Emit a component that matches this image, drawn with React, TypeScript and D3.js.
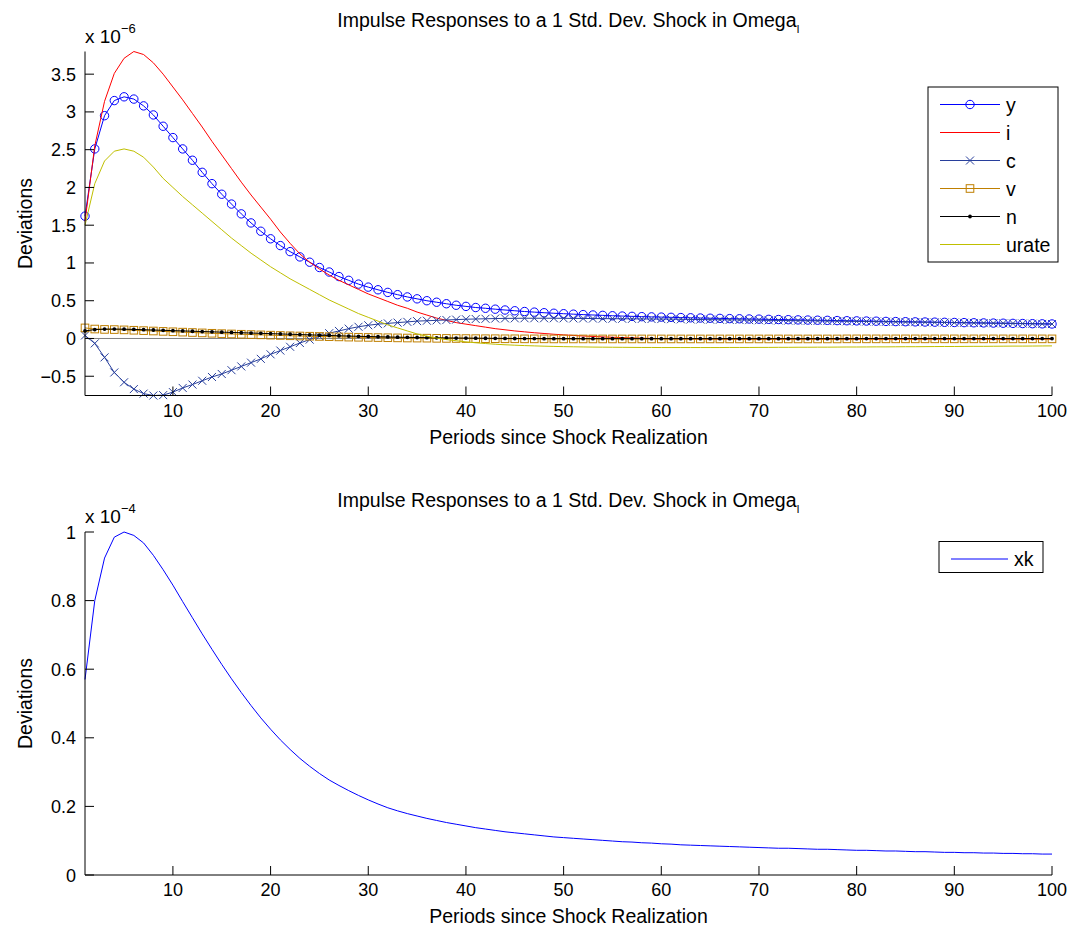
import React from 'react';
import * as d3 from 'd3';

// periods 1..100
const periods = d3.range(1, 101);

// responses, in units of 1e-6
const ySeries = [
  1.62, 2.51, 2.95, 3.15, 3.20, 3.17, 3.08, 2.96, 2.81, 2.66,
  2.51, 2.36, 2.20, 2.05, 1.91, 1.78, 1.65, 1.53, 1.42, 1.32,
  1.23, 1.15, 1.08, 1.01, 0.94, 0.88, 0.82, 0.77, 0.72, 0.68,
  0.645, 0.61, 0.58, 0.55, 0.525, 0.50, 0.48, 0.46, 0.44, 0.425,
  0.41, 0.40, 0.388, 0.377, 0.367, 0.357, 0.349, 0.341, 0.334, 0.328,
  0.322, 0.316, 0.311, 0.306, 0.301, 0.297, 0.293, 0.289, 0.286, 0.283,
  0.280, 0.277, 0.274, 0.271, 0.268, 0.266, 0.263, 0.261, 0.258, 0.256,
  0.253, 0.251, 0.249, 0.246, 0.244, 0.242, 0.240, 0.237, 0.235, 0.233,
  0.231, 0.229, 0.226, 0.224, 0.222, 0.220, 0.218, 0.216, 0.214, 0.212,
  0.210, 0.208, 0.206, 0.204, 0.202, 0.200, 0.198, 0.196, 0.194, 0.192,
];
const iSeries = [
  1.55, 2.55, 3.14, 3.51, 3.71, 3.80, 3.76, 3.65, 3.50, 3.33,
  3.16, 2.98, 2.80, 2.61, 2.43, 2.25, 2.07, 1.90, 1.74, 1.58,
  1.41, 1.26, 1.12, 1.01, 0.92, 0.84, 0.77, 0.71, 0.65, 0.59,
  0.54, 0.49, 0.44, 0.40, 0.35, 0.31, 0.27, 0.24, 0.21, 0.19,
  0.17, 0.15, 0.13, 0.115, 0.10, 0.088, 0.076, 0.066, 0.056, 0.048,
  0.040, 0.033, 0.027, 0.021, 0.016, 0.012, 0.008, 0.004, 0.001, -0.002,
  -0.004, -0.005, -0.006, -0.007, -0.008, -0.008, -0.009, -0.009, -0.010, -0.010,
  -0.010, -0.010, -0.010, -0.010, -0.010, -0.010, -0.010, -0.010, -0.010, -0.010,
  -0.010, -0.010, -0.010, -0.010, -0.010, -0.010, -0.010, -0.010, -0.010, -0.010,
  -0.010, -0.010, -0.010, -0.010, -0.010, -0.009, -0.009, -0.009, -0.009, -0.009,
];
const cSeries = [
  0.04, -0.065, -0.25, -0.45, -0.58, -0.67, -0.73, -0.755, -0.75, -0.71,
  -0.655, -0.61, -0.56, -0.51, -0.47, -0.42, -0.37, -0.32, -0.27, -0.21,
  -0.16, -0.11, -0.06, -0.015, 0.03, 0.07, 0.10, 0.13, 0.155, 0.175,
  0.19, 0.20, 0.21, 0.22, 0.23, 0.235, 0.24, 0.245, 0.25, 0.255,
  0.258, 0.261, 0.264, 0.266, 0.267, 0.268, 0.268, 0.268, 0.268, 0.267,
  0.266, 0.265, 0.264, 0.263, 0.262, 0.261, 0.260, 0.259, 0.258, 0.257,
  0.256, 0.254, 0.252, 0.251, 0.249, 0.248, 0.246, 0.245, 0.243, 0.242,
  0.240, 0.239, 0.237, 0.236, 0.234, 0.233, 0.231, 0.230, 0.228, 0.226,
  0.225, 0.223, 0.221, 0.220, 0.218, 0.216, 0.215, 0.213, 0.211, 0.209,
  0.208, 0.206, 0.204, 0.202, 0.201, 0.199, 0.197, 0.195, 0.193, 0.191,
];
const vSeries = [
  0.14, 0.125, 0.12, 0.118, 0.114, 0.109, 0.104, 0.099, 0.094, 0.089,
  0.084, 0.079, 0.074, 0.069, 0.064, 0.060, 0.056, 0.052, 0.048, 0.044,
  0.040, 0.036, 0.033, 0.030, 0.027, 0.024, 0.021, 0.018, 0.016, 0.014,
  0.012, 0.010, 0.008, 0.006, 0.005, 0.004, 0.002, 0.001, 0.000, -0.001,
  -0.002, -0.003, -0.003, -0.004, -0.004, -0.005, -0.005, -0.005, -0.006, -0.006,
  -0.006, -0.006, -0.006, -0.006, -0.006, -0.006, -0.006, -0.006, -0.006, -0.006,
  -0.006, -0.006, -0.006, -0.006, -0.006, -0.006, -0.006, -0.006, -0.006, -0.006,
  -0.006, -0.006, -0.006, -0.006, -0.006, -0.006, -0.006, -0.006, -0.005, -0.005,
  -0.005, -0.005, -0.005, -0.005, -0.005, -0.005, -0.005, -0.005, -0.005, -0.005,
  -0.005, -0.005, -0.005, -0.005, -0.005, -0.005, -0.005, -0.005, -0.005, -0.005,
];
const nSeries = [
  0.10, 0.118, 0.124, 0.125, 0.123, 0.12, 0.116, 0.112, 0.108, 0.104,
  0.10, 0.096, 0.092, 0.088, 0.084, 0.080, 0.076, 0.072, 0.068, 0.064,
  0.060, 0.056, 0.052, 0.048, 0.044, 0.040, 0.036, 0.032, 0.029, 0.026,
  0.023, 0.020, 0.017, 0.015, 0.013, 0.011, 0.009, 0.007, 0.006, 0.005,
  0.004, 0.003, 0.002, 0.001, 0.000, -0.001, -0.001, -0.002, -0.002, -0.002,
  -0.002, -0.002, -0.002, -0.002, -0.002, -0.002, -0.002, -0.002, -0.002, -0.002,
  -0.002, -0.002, -0.002, -0.002, -0.002, -0.002, -0.002, -0.002, -0.002, -0.002,
  -0.002, -0.002, -0.002, -0.002, -0.002, -0.002, -0.002, -0.002, -0.002, -0.002,
  -0.001, -0.001, -0.001, -0.001, -0.001, -0.001, -0.001, -0.001, -0.001, -0.001,
  -0.001, -0.001, -0.001, -0.001, -0.001, -0.001, -0.001, -0.001, -0.001, -0.001,
];
const urateSeries = [
  1.50, 2.05, 2.35, 2.48, 2.51, 2.48, 2.40, 2.27, 2.12, 2.00,
  1.88, 1.77, 1.66, 1.55, 1.44, 1.33, 1.23, 1.13, 1.04, 0.95,
  0.87, 0.79, 0.72, 0.65, 0.58, 0.51, 0.45, 0.39, 0.33, 0.28,
  0.23, 0.18, 0.14, 0.10, 0.06, 0.03, 0.005, -0.015, -0.03, -0.045,
  -0.057, -0.067, -0.076, -0.083, -0.089, -0.094, -0.098, -0.102, -0.105, -0.108,
  -0.110, -0.112, -0.114, -0.115, -0.116, -0.117, -0.118, -0.119, -0.119, -0.120,
  -0.120, -0.120, -0.120, -0.120, -0.120, -0.120, -0.119, -0.119, -0.119, -0.118,
  -0.118, -0.117, -0.117, -0.116, -0.116, -0.115, -0.115, -0.114, -0.113, -0.113,
  -0.112, -0.111, -0.111, -0.110, -0.109, -0.109, -0.108, -0.107, -0.106, -0.106,
  -0.105, -0.104, -0.104, -0.103, -0.102, -0.101, -0.101, -0.100, -0.099, -0.098,
];
// bottom panel, in units of 1e-4
const xkSeries = [
  0.57, 0.80, 0.924, 0.985, 1.00, 0.99, 0.968, 0.932, 0.89, 0.845,
  0.797, 0.75, 0.703, 0.658, 0.614, 0.572, 0.532, 0.494, 0.458, 0.425,
  0.394, 0.366, 0.34, 0.317, 0.296, 0.277, 0.261, 0.246, 0.232, 0.219,
  0.207, 0.196, 0.187, 0.179, 0.172, 0.165, 0.159, 0.153, 0.148, 0.143,
  0.138, 0.134, 0.130, 0.126, 0.123, 0.120, 0.117, 0.114, 0.111, 0.109,
  0.107, 0.105, 0.103, 0.101, 0.099, 0.097, 0.096, 0.094, 0.093, 0.091,
  0.090, 0.088, 0.087, 0.086, 0.085, 0.084, 0.083, 0.082, 0.081, 0.080,
  0.079, 0.078, 0.078, 0.077, 0.076, 0.075, 0.075, 0.074, 0.073, 0.072,
  0.072, 0.071, 0.070, 0.070, 0.069, 0.068, 0.068, 0.067, 0.066, 0.066,
  0.065, 0.065, 0.064, 0.064, 0.063, 0.063, 0.062, 0.062, 0.061, 0.061,
];

const xTicks = [10, 20, 30, 40, 50, 60, 70, 80, 90, 100];
const topYTicks = [-0.5, 0, 0.5, 1, 1.5, 2, 2.5, 3, 3.5];
const bottomYTicks = [0, 0.2, 0.4, 0.6, 0.8, 1];

const topSeries = [
  { name: 'y', values: ySeries, color: '#0000ff', marker: 'circle' },
  { name: 'i', values: iSeries, color: '#ff0000', marker: 'none' },
  { name: 'c', values: cSeries, color: '#283f9c', marker: 'x' },
  { name: 'v', values: vSeries, color: '#bf7f00', marker: 'square' },
  { name: 'n', values: nSeries, color: '#000000', marker: 'dot' },
  { name: 'urate', values: urateSeries, color: '#bfbf00', marker: 'none' },
];

const FONT = '"Liberation Sans", Arial, Helvetica, sans-serif';
const W = 1077;
const H = 929;
const left = 85;
const right = 1052;

function Marker({ type, x, y, color }: { type: string; x: number; y: number; color: string }) {
  if (type === 'circle') return <circle cx={x} cy={y} r={4.2} fill="none" stroke={color} strokeWidth={1} />;
  if (type === 'square') return <rect x={x - 3.8} y={y - 3.8} width={7.6} height={7.6} fill="none" stroke={color} strokeWidth={1} />;
  if (type === 'x')
    return (
      <path d={`M${x - 4},${y - 4}L${x + 4},${y + 4}M${x - 4},${y + 4}L${x + 4},${y - 4}`} stroke={color} strokeWidth={1} />
    );
  if (type === 'dot') return <circle cx={x} cy={y} r={1.9} fill={color} />;
  return null;
}

function Panel({ top, bottom, yDomain, yTicks, exponent, series, legend }: any) {
  const x = d3.scaleLinear().domain([1, 100]).range([left, right]);
  const y = d3.scaleLinear().domain(yDomain).range([bottom, top]);
  const line = d3.line<number>().x((_, k) => x(periods[k])).y((d) => y(d));
  const midX = (left + right) / 2;
  const fmt = (v: number) => String(v).replace('-', '\u2212');
  return (
    <g fontFamily={FONT}>
      <text x={midX} y={top - 25} textAnchor="middle" fontSize={19.5}>
        Impulse Responses to a 1 Std. Dev. Shock in Omega
        <tspan fontSize={11} dy={6}>I</tspan>
      </text>
      <text x={left} y={top - 9} fontSize={19}>
        x 10<tspan fontSize={13} dy={-10}>{exponent}</tspan>
      </text>
      {series.map((s: any) =>
        s.zero ? (
          <line key="zero" x1={x(1)} x2={x(100)} y1={y(0)} y2={y(0)} stroke="#808080" strokeWidth={1} />
        ) : (
          <g key={s.name}>
            <path d={line(s.values) || ''} fill="none" stroke={s.color} strokeWidth={1} />
            {s.marker !== 'none' &&
              s.values.map((v: number, k: number) => (
                <Marker key={k} type={s.marker} x={x(periods[k])} y={y(v)} color={s.color} />
              ))}
          </g>
        )
      )}
      <line x1={left} x2={right} y1={bottom} y2={bottom} stroke="#000" />
      <line x1={left} x2={left} y1={top} y2={bottom} stroke="#000" />
      {xTicks.map((t) => (
        <g key={t}>
          <line x1={x(t)} x2={x(t)} y1={bottom} y2={bottom - 9} stroke="#000" />
          <text x={x(t)} y={bottom + 21} textAnchor="middle" fontSize={18}>{t}</text>
        </g>
      ))}
      {yTicks.map((t: number) => (
        <g key={t}>
          <line x1={left} x2={left + 9} y1={y(t)} y2={y(t)} stroke="#000" />
          <text x={left - 9} y={y(t) + 6.5} textAnchor="end" fontSize={18}>{fmt(t)}</text>
        </g>
      ))}
      <text x={midX} y={bottom + 48} textAnchor="middle" fontSize={19.5}>Periods since Shock Realization</text>
      <text transform={`translate(32,${(top + bottom) / 2}) rotate(-90)`} textAnchor="middle" fontSize={19.5}>Deviations</text>
      <g>
        <rect x={legend.x} y={legend.y} width={legend.w} height={legend.h} fill="#fff" stroke="#000" />
        {legend.items.map((s: any, k: number) => {
          const ly = legend.y + 17.5 + k * 28;
          return (
            <g key={s.name}>
              <line x1={legend.x + 12} x2={legend.x + legend.lineW + 12} y1={ly} y2={ly} stroke={s.color} />
              <Marker type={s.marker} x={legend.x + 12 + legend.lineW / 2} y={ly} color={s.color} />
              <text x={legend.x + legend.lineW + 18} y={ly + 7} fontSize={19.5}>{s.name}</text>
            </g>
          );
        })}
      </g>
    </g>
  );
}

export default function App() {
  const zero = { name: 'zero', zero: true };
  return (
    <svg width={W} height={H} style={{ position: 'absolute', left: 0, top: 0, background: '#fff' }}>
      <rect width={W} height={H} fill="#fff" />
      <Panel
        top={51.5}
        bottom={395.5}
        yDomain={[-0.755, 3.8]}
        yTicks={topYTicks}
        exponent={'\u22126'}
        series={[zero, ...topSeries]}
        legend={{ x: 928, y: 87, w: 130, h: 175, lineW: 60, items: topSeries }}
      />
      <Panel
        top={532}
        bottom={875}
        yDomain={[0, 1]}
        yTicks={bottomYTicks}
        exponent={'\u22124'}
        series={[{ name: 'xk', values: xkSeries, color: '#0000ff', marker: 'none' }]}
        legend={{ x: 939, y: 541.5, w: 104, h: 31, lineW: 57, items: [{ name: 'xk', color: '#0000ff', marker: 'none' }] }}
      />
    </svg>
  );
}
